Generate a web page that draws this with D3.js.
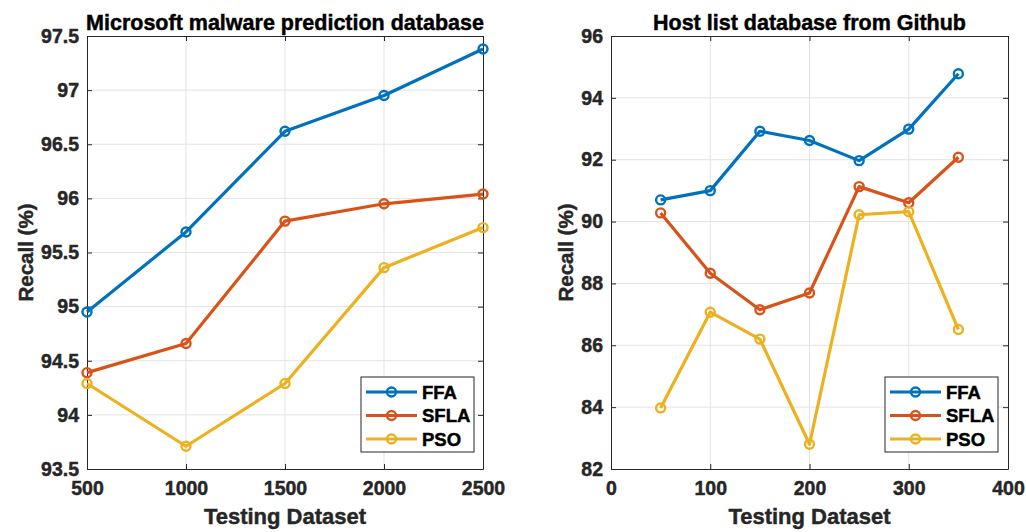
<!DOCTYPE html>
<html>
<head>
<meta charset="utf-8">
<script src="https://cdn.jsdelivr.net/npm/d3@7"></script>
<style>
  body { margin: 0; background: #fff; }
  svg { display: block; font-family: "Liberation Sans", Arial, sans-serif; font-weight: bold; }
  svg text { stroke: currentColor; stroke-width: 0.45px; }
</style>
</head>
<body>
<svg id="chart" width="1026" height="532"></svg>
<script>
// Left panel: Microsoft malware prediction database
const leftX = [500, 1000, 1500, 2000, 2500];
const leftFFA = [94.95, 95.69, 96.62, 96.95, 97.38];
const leftSFLA = [94.39, 94.66, 95.79, 95.95, 96.04];
const leftPSO = [94.29, 93.71, 94.29, 95.36, 95.73];
const leftXTicks = [500, 1000, 1500, 2000, 2500];
const leftYTicks = [93.5, 94, 94.5, 95, 95.5, 96, 96.5, 97, 97.5];

// Right panel: Host list database from Github
const rightX = [50, 100, 150, 200, 250, 300, 350];
const rightFFA = [90.7, 91.0, 92.92, 92.62, 91.97, 92.99, 94.78];
const rightSFLA = [90.28, 88.33, 87.15, 87.69, 91.13, 90.61, 92.08];
const rightPSO = [83.97, 87.07, 86.2, 82.8, 90.22, 90.32, 86.51];
const rightXTicks = [0, 100, 200, 300, 400];
const rightYTicks = [82, 84, 86, 88, 90, 92, 94, 96];

const seriesNames = ['FFA', 'SFLA', 'PSO'];
const colors = ['#0072BD', '#D95319', '#EDB120'];

const svg = d3.select('#chart');

function drawPanel(cfg) {
    const x = d3.scaleLinear().domain(cfg.xDomain).range([cfg.left, cfg.right]);
    const y = d3.scaleLinear().domain(cfg.yDomain).range([cfg.bottom, cfg.top]);
    const g = svg.append('g');
    const axisColor = '#262626';

    // grid
    g.append('g').selectAll('line')
        .data(cfg.xTicks.slice(1, -1))
        .join('line')
        .attr('x1', d => x(d)).attr('x2', d => x(d))
        .attr('y1', cfg.top).attr('y2', cfg.bottom)
        .attr('stroke', '#e3e3e3').attr('stroke-width', 1);
    g.append('g').selectAll('line')
        .data(cfg.yTicks.slice(1, -1))
        .join('line')
        .attr('x1', cfg.left).attr('x2', cfg.right)
        .attr('y1', d => y(d)).attr('y2', d => y(d))
        .attr('stroke', '#e3e3e3').attr('stroke-width', 1);

    // axes (ticks inward, boxed)
    const styleAxis = sel => {
        sel.select('.domain').attr('stroke', axisColor).attr('stroke-width', 1);
        sel.selectAll('.tick line').attr('stroke', axisColor);
        sel.selectAll('.tick text')
            .attr('fill', axisColor)
            .style('color', axisColor)
            .style('font-size', '19.5px')
            .style('font-weight', 'bold')
            .style('font-family', '"Liberation Sans", Arial, sans-serif');
    };
    const fmt = d3.format('');
    g.append('g').attr('transform', `translate(0,${cfg.bottom})`)
        .call(d3.axisBottom(x).tickValues(cfg.xTicks).tickFormat(fmt).tickSizeInner(-5).tickSizeOuter(0).tickPadding(12))
        .call(styleAxis);
    g.append('g').attr('transform', `translate(${cfg.left},0)`)
        .call(d3.axisLeft(y).tickValues(cfg.yTicks).tickFormat(fmt).tickSizeInner(-5).tickSizeOuter(0).tickPadding(8))
        .call(styleAxis);
    g.append('g').attr('transform', `translate(0,${cfg.top})`)
        .call(d3.axisTop(x).tickValues(cfg.xTicks).tickSizeInner(-5).tickSizeOuter(0).tickFormat(''))
        .call(styleAxis);
    g.append('g').attr('transform', `translate(${cfg.right},0)`)
        .call(d3.axisRight(y).tickValues(cfg.yTicks).tickSizeInner(-5).tickSizeOuter(0).tickFormat(''))
        .call(styleAxis);

    // series
    const line = d3.line().x(d => x(d[0])).y(d => y(d[1]));
    cfg.series.forEach((vals, i) => {
        const pts = cfg.xs.map((xv, j) => [xv, vals[j]]);
        g.append('path').datum(pts)
            .attr('d', line)
            .attr('fill', 'none')
            .attr('stroke', colors[i])
            .attr('stroke-width', 3.2)
            .attr('stroke-linejoin', 'round');
        g.append('g').selectAll('circle')
            .data(pts)
            .join('circle')
            .attr('cx', d => x(d[0])).attr('cy', d => y(d[1]))
            .attr('r', 4.5)
            .attr('fill', 'none')
            .attr('stroke', colors[i])
            .attr('stroke-width', 2.4);
    });

    // title
    g.append('text')
        .attr('x', (cfg.left + cfg.right) / 2).attr('y', 30)
        .attr('text-anchor', 'middle')
        .style('font-size', '21.5px')
        .attr('fill', '#000').style('color', '#000')
        .text(cfg.title);
    // axis labels
    g.append('text')
        .attr('x', (cfg.left + cfg.right) / 2).attr('y', 524)
        .attr('text-anchor', 'middle')
        .style('font-size', '22px')
        .attr('fill', axisColor).style('color', axisColor)
        .text('Testing Dataset');
    g.append('text')
        .attr('transform', `translate(${cfg.ylabelX},${(cfg.top + cfg.bottom) / 2}) rotate(-90)`)
        .attr('text-anchor', 'middle')
        .style('font-size', '20.5px')
        .attr('fill', axisColor).style('color', axisColor)
        .text('Recall (%)');

    // legend
    const lg = g.append('g').attr('transform', `translate(${cfg.legend[0]},${cfg.legend[1]})`);
    lg.append('rect')
        .attr('width', 113).attr('height', 75)
        .attr('fill', '#fff').attr('stroke', axisColor).attr('stroke-width', 1);
    seriesNames.forEach((name, i) => {
        const yy = 15 + i * 23.5;
        lg.append('line')
            .attr('x1', 5).attr('x2', 56).attr('y1', yy).attr('y2', yy)
            .attr('stroke', colors[i]).attr('stroke-width', 3.2);
        lg.append('circle')
            .attr('cx', 30.5).attr('cy', yy).attr('r', 4.5)
            .attr('fill', 'none').attr('stroke', colors[i]).attr('stroke-width', 2.4);
        lg.append('text')
            .attr('x', 61).attr('y', yy + 6.5)
            .style('font-size', '18.5px')
            .attr('fill', '#000').style('color', '#000')
            .text(name);
    });
}

drawPanel({
    xs: leftX, series: [leftFFA, leftSFLA, leftPSO],
    xDomain: [500, 2500], yDomain: [93.5, 97.5],
    xTicks: leftXTicks, yTicks: leftYTicks,
    left: 87, right: 483, top: 36, bottom: 469,
    title: 'Microsoft malware prediction database',
    ylabelX: 33, legend: [361, 377]
});
drawPanel({
    xs: rightX, series: [rightFFA, rightSFLA, rightPSO],
    xDomain: [0, 400], yDomain: [82, 96],
    xTicks: rightXTicks, yTicks: rightYTicks,
    left: 611, right: 1008, top: 36, bottom: 469,
    title: 'Host list database from Github',
    ylabelX: 573, legend: [885, 377]
});
</script>
</body>
</html>
